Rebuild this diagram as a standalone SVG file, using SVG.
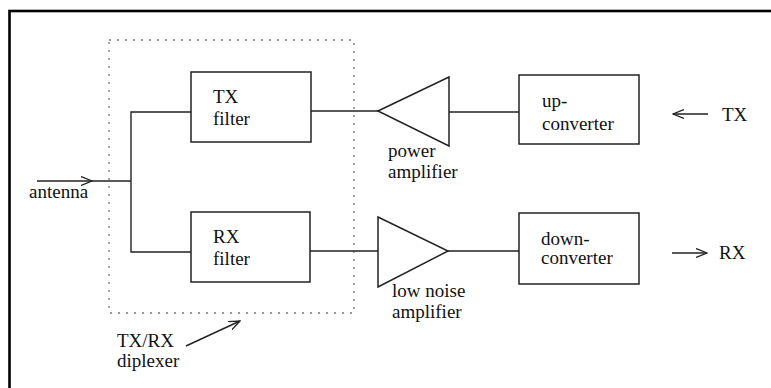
<svg xmlns="http://www.w3.org/2000/svg" width="771" height="388" viewBox="0 0 771 388">
<defs>
<style>
text{font-family:"Liberation Serif","Times New Roman",serif;font-size:19px;fill:#111}
.box{fill:none;stroke:#222;stroke-width:1.5}
.ln{fill:none;stroke:#222;stroke-width:1.4}
.dot{fill:none;stroke:#777;stroke-width:1.3;stroke-dasharray:2 6}
</style>
<marker id="ah" viewBox="0 0 12 10" refX="11" refY="5" markerWidth="12" markerHeight="10" markerUnits="userSpaceOnUse" orient="auto">
<path d="M0,0.5 L11,5 L0,9.5" fill="none" stroke="#222" stroke-width="1.3"/>
</marker>
</defs>
<rect width="771" height="388" fill="#fff"/>
<rect x="9.5" y="11" width="820" height="420" fill="none" stroke="#000" stroke-width="2.6"/>

<g id="diplexer">
<rect class="dot" x="109" y="40" width="245" height="273"/>
<text x="117" y="347">TX/RX</text>
<text x="117" y="367">diplexer</text>
</g>

<g id="antenna">
<text x="29" y="198">antenna</text>
</g>

<g id="tx-filter">
<rect class="box" x="191" y="72" width="120" height="70"/>
<text x="213" y="103">TX</text>
<text x="213" y="125">filter</text>
</g>

<g id="rx-filter">
<rect class="box" x="191" y="212" width="119" height="70"/>
<text x="213" y="243">RX</text>
<text x="213" y="265">filter</text>
</g>

<g id="power-amplifier">
<path class="box" d="M378,111 L449,77 L449,146 Z"/>
<text x="388" y="157">power</text>
<text x="388" y="178">amplifier</text>
</g>

<g id="low-noise-amplifier">
<path class="box" d="M378,217 L448,251 L378,287 Z"/>
<text x="392" y="297">low noise</text>
<text x="392" y="318">amplifier</text>
</g>

<g id="up-converter">
<rect class="box" x="519" y="75" width="120" height="69"/>
<text x="542" y="107">up-</text>
<text x="542" y="130">converter</text>
</g>

<g id="down-converter">
<rect class="box" x="519" y="213" width="120" height="71"/>
<text x="541" y="245">down-</text>
<text x="541" y="264">converter</text>
</g>

<g id="tx-port">
<text x="722" y="121">TX</text>
</g>

<g id="rx-port">
<text x="719" y="259">RX</text>
</g>

<g id="connectors">
<line class="ln" x1="37" y1="181" x2="92" y2="181" marker-end="url(#ah)"/>
<line class="ln" x1="92" y1="181" x2="131" y2="181"/>
<path class="ln" d="M191,112 L131,112 L131,252 L191,252"/>
<line class="ln" x1="311" y1="111" x2="378" y2="111"/>
<line class="ln" x1="449" y1="112" x2="519" y2="112"/>
<line class="ln" x1="310" y1="251" x2="378" y2="251"/>
<line class="ln" x1="448" y1="251" x2="519" y2="251"/>
<line class="ln" x1="708" y1="114" x2="673" y2="114" marker-end="url(#ah)"/>
<line class="ln" x1="672" y1="253" x2="707" y2="253" marker-end="url(#ah)"/>
<line class="ln" x1="186" y1="346" x2="240" y2="321" marker-end="url(#ah)"/>
</g>
</svg>
